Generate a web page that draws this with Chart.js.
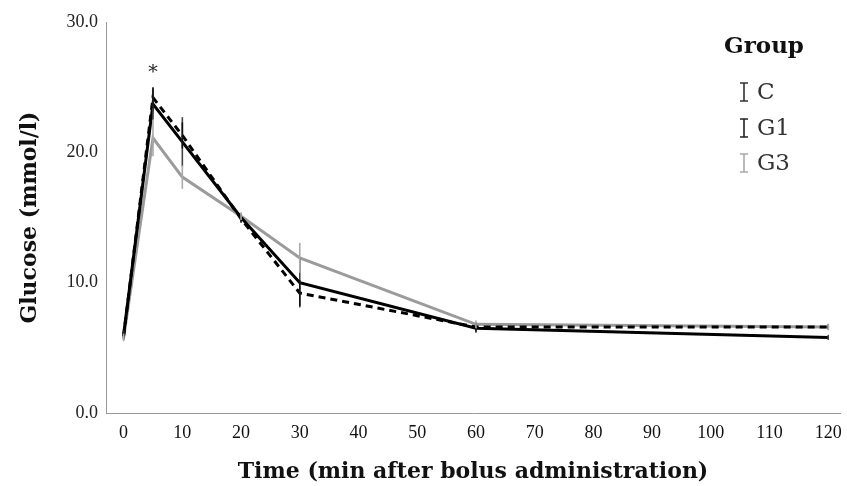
<!DOCTYPE html>
<html>
<head>
<meta charset="utf-8">
<script src="https://cdn.jsdelivr.net/npm/chart.js@4.4.1/dist/chart.umd.min.js"></script>
<style>
  html, body { margin: 0; padding: 0; background: #fff; }
  #wrap { width: 847px; height: 486px; position: relative; }
</style>
</head>
<body>
<div id="wrap"><canvas id="c" width="847" height="486"></canvas></div>
<script>
// ---- data ----
const times = [0, 5, 10, 20, 30, 60, 120];
const groupNames = ['C', 'G1', 'G3'];
const valuesC  = [6.0, 23.7, 20.8, 15.0, 10.0, 6.5, 5.8];
const valuesG1 = [5.9, 24.2, 21.3, 14.9, 9.2, 6.6, 6.6];
const valuesG3 = [5.8, 21.1, 18.1, 15.1, 11.9, 6.8, 6.6];
const errC  = [0.3, 1.2, 1.9, 0.3, 1.9, 0.35, 0.2];
const errG1 = [0.3, 0.8, 1.0, 0.3, 1.0, 0.35, 0.2];
const errG3 = [0.3, 1.4, 0.9, 0.3, 1.15, 0.3, 0.25];
const xTickValues = [0, 10, 20, 30, 40, 50, 60, 70, 80, 90, 100, 110, 120];
const yTickValues = [0, 10, 20, 30];
const markers = [{ x: 5, y: 26.1, text: '*' }];

const toPts = (vals) => times.map((t, i) => ({ x: t, y: vals[i] }));

const errorBarPlugin = {
  id: 'errorBars',
  afterDatasetsDraw(chart) {
    const ctx = chart.ctx;
    const xs = chart.scales.x, ys = chart.scales.y;
    chart.data.datasets.forEach((ds) => {
      ctx.save();
      ctx.strokeStyle = ds.errColor;
      ctx.lineWidth = 1.6;
      ds.data.forEach((p, i) => {
        const e = ds.errors[i];
        const px = xs.getPixelForValue(p.x);
        const y1 = ys.getPixelForValue(p.y - e);
        const y2 = ys.getPixelForValue(p.y + e);
        ctx.beginPath();
        ctx.moveTo(px, y1); ctx.lineTo(px, y2);
        ctx.stroke();
      });
      ctx.restore();
    });
    // significance markers
    ctx.save();
    ctx.fillStyle = '#222';
    ctx.font = '19px "DejaVu Serif"';
    ctx.textAlign = 'center';
    ctx.textBaseline = 'middle';
    markers.forEach(m => {
      ctx.fillText(m.text, xs.getPixelForValue(m.x), ys.getPixelForValue(m.y));
    });
    ctx.restore();
  }
};

const legendPlugin = {
  id: 'groupLegend',
  afterDraw(chart) {
    const ctx = chart.ctx;
    ctx.save();
    ctx.fillStyle = '#111';
    ctx.font = 'bold 23px "DejaVu Serif"';
    ctx.textAlign = 'center';
    ctx.textBaseline = 'middle';
    ctx.fillText('Group', 764, 47);
    const rows = [92, 128, 163];
    chart.data.datasets.forEach((ds, i) => {
      const y = rows[i];
      const x = 744;
      ctx.strokeStyle = ds.iconColor;
      ctx.lineWidth = 1.6;
      ctx.beginPath();
      ctx.moveTo(x - 4, y - 9); ctx.lineTo(x + 4, y - 9);
      ctx.moveTo(x, y - 9); ctx.lineTo(x, y + 9);
      ctx.moveTo(x - 4, y + 9); ctx.lineTo(x + 4, y + 9);
      ctx.stroke();
      ctx.fillStyle = '#333';
      ctx.font = '23px "DejaVu Serif"';
      ctx.textAlign = 'left';
      ctx.fillText(ds.label, 757, y + 1);
    });
    ctx.restore();
  }
};

new Chart(document.getElementById('c'), {
  type: 'line',
  data: {
    datasets: [
      { label: groupNames[0], data: toPts(valuesC), errors: errC, errColor: '#444', iconColor: '#333',
        borderColor: '#000', borderWidth: 3, pointRadius: 0, order: 1, tension: 0 },
      { label: groupNames[1], data: toPts(valuesG1), errors: errG1, errColor: '#111', iconColor: '#222',
        borderColor: '#000', borderWidth: 3, borderDash: [7, 5], pointRadius: 0, order: 0, tension: 0 },
      { label: groupNames[2], data: toPts(valuesG3), errors: errG3, errColor: '#aaa', iconColor: '#aaa',
        borderColor: '#9b9b9b', borderWidth: 3, pointRadius: 0, order: 2, tension: 0 }
    ]
  },
  options: {
    responsive: false,
    animation: false,
    layout: { padding: { top: 22, right: 7, left: 0, bottom: 0 } },
    plugins: { legend: { display: false }, tooltip: { enabled: false } },
    scales: {
      x: {
        type: 'linear', min: -3, max: 122,
        afterBuildTicks: (s) => { s.ticks = xTickValues.map(v => ({ value: v })); },
        afterFit: (s) => { s.height = 73; },
        grid: { display: false },
        border: { display: true, color: '#999', width: 1 },
        ticks: { color: '#111', font: { family: 'Liberation Serif', size: 18 }, padding: 1, maxRotation: 0 },
        title: { display: true, text: 'Time (min after bolus administration)', color: '#111',
                 font: { family: 'DejaVu Serif', size: 22, weight: 'bold' }, padding: { top: 0, bottom: 1 } }
      },
      y: {
        min: 0, max: 30,
        afterBuildTicks: (s) => { s.ticks = yTickValues.map(v => ({ value: v })); },
        afterFit: (s) => { s.width = 106; },
        grid: { display: false },
        border: { display: true, color: '#999', width: 1 },
        ticks: { color: '#222', font: { family: 'Liberation Serif', size: 18 }, padding: 0,
                 callback: (v) => Number(v).toFixed(1) },
        title: { display: true, text: 'Glucose (mmol/l)', color: '#111',
                 font: { family: 'DejaVu Serif', size: 22, weight: 'bold' }, padding: { top: 17, bottom: 0 } }
      }
    }
  },
  plugins: [errorBarPlugin, legendPlugin]
});
</script>
</body>
</html>
